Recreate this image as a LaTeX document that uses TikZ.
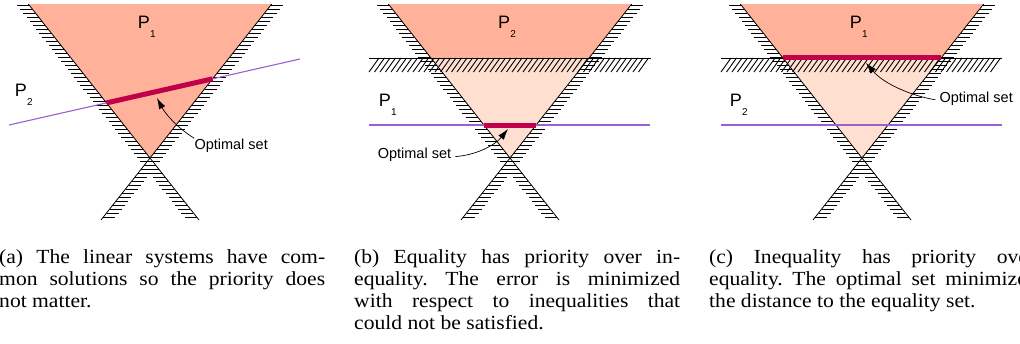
\documentclass[tikz,border=0pt]{standalone}
\usepackage{fontspec}
\setmainfont{Liberation Serif}[FakeStretch=1.08]
\newfontfamily\labelfont{Liberation Sans}
\usetikzlibrary{arrows.meta,calc}
\definecolor{conedark}{RGB}{255,178,153}
\definecolor{conelight}{RGB}{255,223,207}
\definecolor{eqpurple}{RGB}{155,95,210}
\definecolor{optred}{RGB}{192,0,72}
\tolerance=9999
\hbadness=10000
\frenchspacing

\tikzset{
  hatch/.style={line width=0.9pt},
  bound/.style={line width=0.8pt},
  eqline/.style={eqpurple, line width=1.1pt},
  optline/.style={optred, line width=5pt},
  optarrow/.style={-{Latex[length=11pt,width=7pt]}, line width=0.7pt},
  plab/.style={font=\labelfont, inner sep=0pt, anchor=base west},
  optlab/.style={font=\labelfont\fontsize{14.5}{16}\selectfont, inner sep=0pt, anchor=base west},
  caption/.style={font=\fontsize{20}{22}\selectfont, text width=326pt, align=justify, inner sep=0pt, anchor=north west}
}
\newcommand{\plabtext}[1]{\fontsize{18}{18}\selectfont P\kern0.3pt\raisebox{-9pt}{\fontsize{10}{10}\selectfont #1}}

\begin{document}
\begin{tikzpicture}[x=1pt,y=-1pt]
    \useasboundingbox (0,0) rectangle (1020,343);

    % Feasible regions
    \fill[conedark] (28.3,4) -- (271.7,4) -- (150,158) -- cycle;
    \fill[conedark] (388.3,4) -- (631.7,4) -- (589,58) -- (431,58) -- cycle;
    \fill[conelight] (431,58) -- (589,58) -- (510,158) -- cycle;
    \fill[conedark] (740.3,4) -- (983.7,4) -- (941,58) -- (783,58) -- cycle;
    \fill[conelight] (783,58) -- (941,58) -- (862,158) -- cycle;

    % Inequality bands
    \foreach \x in {369,374.5,...,641} {
        \draw[hatch] (\x,72) -- ++(10,-14);
    }
    \foreach \x in {721,726.5,...,993} {
        \draw[hatch] (\x,72) -- ++(10,-14);
    }
    \draw[bound] (369,58) -- (651,58);
    \draw[bound] (721,58) -- (1002,58);

    % Cone boundaries with hatching
    \foreach \ax in {150,510,862} {
        \draw[bound] ({\ax-121.7},4) -- ({\ax+49},220);
        \draw[bound] ({\ax+121.7},4) -- ({\ax-49},220);
        \foreach \y in {5,9,...,217} {
            \draw[hatch] ({\ax-0.79*(158-\y)},\y) -- ++(-12,0);
            \draw[hatch] ({\ax+0.79*(158-\y)},\y) -- ++(12,0);
        }
    }

    % Equality lines
    \coordinate (la) at (28.3,4);
    \coordinate (apa) at (150,158);
    \coordinate (ra) at (271.7,4);
    \coordinate (eqa1) at (9,125);
    \coordinate (eqa2) at (300,59);
    \draw[eqline] (eqa1) -- (eqa2);
    \draw[eqline] (369,125) -- (650,125);
    \draw[eqline] (721,125) -- (1002,125);

    % Optimal sets
    \draw[optline] (intersection of la--apa and eqa1--eqa2) -- (intersection of ra--apa and eqa1--eqa2);
    \draw[optline] (483.9,125) -- (536.1,125);
    \draw[optline] (782.6,57.5) -- (941.4,57.5);

    % Labels
    \node[plab] (p1a) at (137.6,28) {\plabtext{1}};
    \node[plab] (p2a) at (14.6,96.5) {\plabtext{2}};
    \node[plab] (p2b) at (497.9,28) {\plabtext{2}};
    \node[plab] (p1b) at (378.6,106) {\plabtext{1}};
    \node[plab] (p1c) at (849.6,28) {\plabtext{1}};
    \node[plab] (p2c) at (729.6,106) {\plabtext{2}};

    \node[optlab] (opta) at (194.3,149) {Optimal set};
    \node[optlab] (optb) at (377.6,158.3) {Optimal set};
    \node[optlab] (optc) at (939.3,102.5) {Optimal set};

    \coordinate (tipa) at (157,98);
    \coordinate (tipb) at (508,129);
    \coordinate (tipc) at (866,63);
    \draw[optarrow] (opta.north west) .. controls (179,129) and (166,115) .. (tipa);
    \draw[optarrow] ($(optb.east)+(4,2)$) .. controls (478,155) and (496,144) .. (tipb);
    \draw[optarrow] ($(optc.west)+(-4,1)$) .. controls (912,96) and (884,84) .. (tipc);

    % Captions
    \node[caption] (capa) at (-1,249) {(a) The linear systems have com-\linebreak mon solutions so the priority does\linebreak not matter.};
    \node[caption] (capb) at (354,249) {(b) Equality has priority over in-\linebreak equality. The error is minimized\linebreak with respect to inequalities that\linebreak could not be satisfied.};
    \node[caption] (capc) at (709,249) {(c) Inequality has priority over\linebreak equality. The optimal set minimizes\linebreak the distance to the equality set.};
\end{tikzpicture}
\end{document}
